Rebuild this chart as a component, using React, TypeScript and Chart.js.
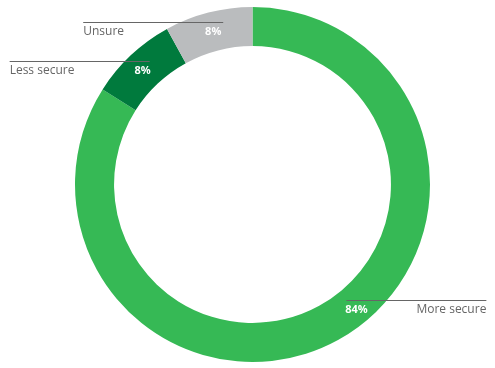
import React, { useEffect, useRef } from "react";
import { Chart, registerables } from "chart.js";

Chart.register(...registerables);

const categories = ["More secure", "Less secure", "Unsure"];
const values = [84, 8, 8];
const percentLabels = ["84%", "8%", "8%"];
const colors = ["#36b955", "#007a3d", "#babcbe"];

// label placement styling (angle fraction within slice, radial fraction, side, line overshoot)
const labelAnchor = [
  { angleFrac: 0.464, radFrac: 0.62, side: "right", over: 10 },
  { angleFrac: 0.47, radFrac: 0.5, side: "left", over: 7 },
  { angleFrac: 0.5, radFrac: 0.5, side: "left", over: 10 },
];

const leaderPlugin = {
  id: "leaderLabels",
  afterDatasetsDraw(chart: any) {
    const ctx = chart.ctx;
    const meta = chart.getDatasetMeta(0);
    meta.data.forEach((arc: any, i: number) => {
      const p = arc.getProps(["x", "y", "startAngle", "endAngle", "innerRadius", "outerRadius"], true);
      const a = labelAnchor[i];
      const ang = p.startAngle + (p.endAngle - p.startAngle) * a.angleFrac;
      const r = p.innerRadius + (p.outerRadius - p.innerRadius) * a.radFrac;
      const lx = p.x + Math.cos(ang) * r;
      const ly = p.y + Math.sin(ang) * r;
      ctx.save();
      ctx.font = "bold 11px 'Open Sans'";
      ctx.fillStyle = "#ffffff";
      ctx.textAlign = "center";
      ctx.textBaseline = "middle";
      ctx.fillText(percentLabels[i], lx, ly);
      const lineY = Math.round(ly - 9.5) + 0.5;
      ctx.strokeStyle = "#666666";
      ctx.lineWidth = 1;
      ctx.beginPath();
      let x1: number, x2: number;
      if (a.side === "left") {
        x2 = lx + a.over;
        x1 = x2 - 140;
      } else {
        x1 = lx - a.over;
        x2 = x1 + 140;
      }
      ctx.moveTo(x1, lineY);
      ctx.lineTo(x2, lineY);
      ctx.stroke();
      ctx.font = "12px 'Open Sans'";
      ctx.fillStyle = "#666666";
      ctx.textAlign = a.side === "left" ? "left" : "right";
      ctx.fillText(categories[i], a.side === "left" ? x1 : x2, ly);
      ctx.restore();
    });
  },
};

export default function App() {
  const ref = useRef<HTMLCanvasElement>(null);
  useEffect(() => {
    document.body.style.margin = "0";
    const chart = new Chart(ref.current!, {
      type: "doughnut",
      data: {
        labels: categories,
        datasets: [
          {
            data: values,
            backgroundColor: colors,
            borderWidth: 0,
          },
        ],
      },
      options: {
        animation: false,
        responsive: false,
        cutout: "78%",
        layout: { padding: { left: 10, right: 0, top: 7, bottom: 6 } },
        plugins: {
          legend: { display: false },
          tooltip: { enabled: false },
        },
      },
      plugins: [leaderPlugin],
    });
    return () => chart.destroy();
  }, []);
  return (
    <div style={{ width: 495, height: 368 }}>
      <canvas ref={ref} width={495} height={368} style={{ display: "block" }} />
    </div>
  );
}
